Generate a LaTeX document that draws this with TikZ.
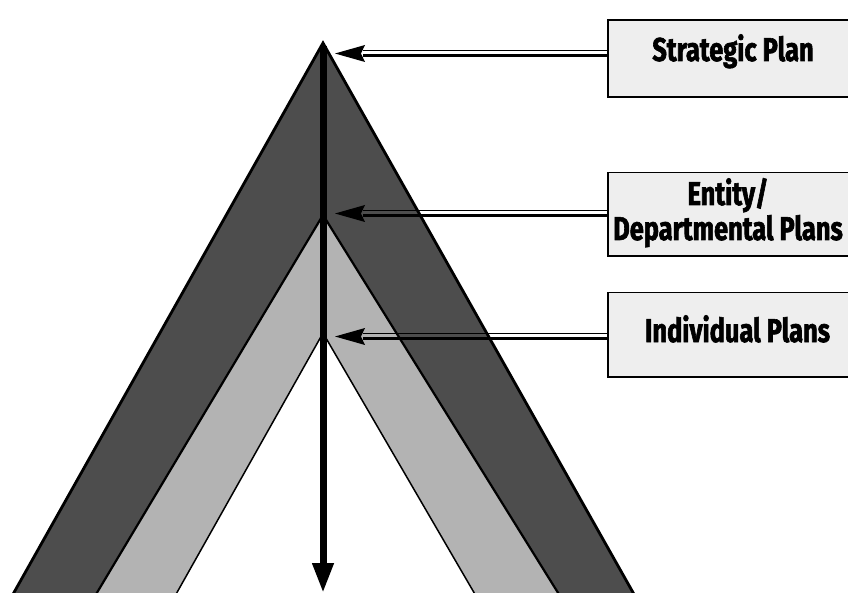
\documentclass[tikz,border=0pt]{standalone}
\usepackage{fontspec}
\newfontfamily\boxfont{Fira Sans}[FakeStretch=0.77, BoldFeatures={FakeBold=1.8}]
\usetikzlibrary{arrows.meta}
\definecolor{darkband}{HTML}{4D4D4D}
\definecolor{lightband}{HTML}{B3B3B3}
\definecolor{boxfill}{HTML}{EEEEEE}
\begin{document}
\begin{tikzpicture}[x=1pt,y=-1pt,
  planbox/.style={draw=black, line width=1.8pt, fill=boxfill, minimum width=263pt, anchor=north west, inner sep=0pt},
  plantext/.style={font=\boxfont\bfseries\fontsize{33}{35}\selectfont, align=center, inner sep=0pt, anchor=base},
  headfill/.style={fill=black},
  topline/.style={line width=1.3pt},
  botline/.style={line width=3pt}]
\useasboundingbox (0,0) rectangle (848,593);
\begin{scope}
\clip (0,0) rectangle (848,593);
% bands
\coordinate (A1) at (323,43);
\coordinate (L1) at (12,596);
\coordinate (R1) at (635,596);
\coordinate (A2) at (323,215);
\coordinate (L2) at (95,596);
\coordinate (R2) at (560,596);
\coordinate (A3) at (323,333);
\coordinate (L3) at (175,596);
\coordinate (R3) at (476,596);
\fill[darkband] (L1) -- (A1) -- (R1) -- cycle;
\draw[line width=2.8pt, line join=miter] (L1) -- (A1) -- (R1);
\fill[lightband] (L2) -- (A2) -- (R2) -- cycle;
\draw[line width=2.2pt] (L2) -- (A2) -- (R2);
\fill[white] (L3) -- (A3) -- (R3) -- cycle;
\draw[line width=1.5pt] (L3) -- (A3) -- (R3);
% vertical arrow
\coordinate (vtop) at (323,46);
\coordinate (vend) at (323,593);
\draw[line width=7pt, -{Triangle[length=30pt,width=20pt]}] (vtop) -- (vend);
% boxes
\node[planbox, minimum height=77pt] (b1) at (607,19) {};
\node[planbox, minimum height=83.5pt] (b2) at (607,171.7) {};
\node[planbox, minimum height=84pt] (b3) at (607,291.7) {};
\node[plantext] (t1) at (733,61) {Strategic Plan};
\node[plantext] (t2) at (728,240) {Entity/\\Departmental Plans};
\node[plantext] (t3) at (737.5,342) {Individual Plans};
% horizontal arrows
\coordinate (p1) at (335,53.5);
\coordinate (p2) at (335,213.5);
\coordinate (p3) at (335,336.5);
\foreach \i in {1,2,3}{
  \coordinate (h\i) at ([xshift=28pt]p\i);
  \coordinate (e\i) at (b\i.west |- h\i);
  \draw[topline] ([yshift=2.8pt]h\i) -- ([yshift=2.8pt]e\i);
  \draw[botline] ([yshift=-2pt]h\i) -- ([yshift=-2pt]e\i);
  \fill[headfill] (p\i) -- ([xshift=30pt,yshift=8.5pt]p\i) -- ([xshift=26pt]p\i) -- ([xshift=30pt,yshift=-8.5pt]p\i) -- cycle;
}
\end{scope}
\end{tikzpicture}
\end{document}
